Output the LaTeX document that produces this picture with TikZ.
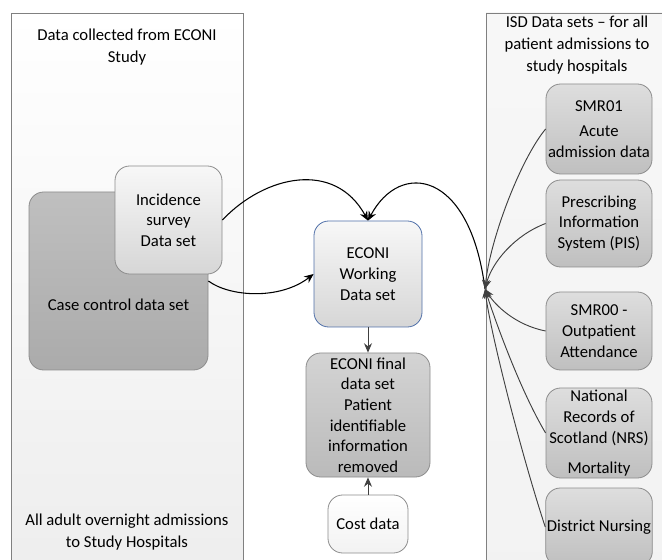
\documentclass[tikz,border=0pt]{standalone}
\usepackage{fontspec}
\setmainfont{Carlito}
\usetikzlibrary{arrows.meta}
\definecolor{edgegray}{RGB}{128,128,128}
\definecolor{boxblue}{RGB}{79,111,168}
\begin{document}
\begin{tikzpicture}[x=0.75pt, y=-0.75pt, font=\fontsize{12.5}{15.5}\selectfont,
    panel/.style={draw=edgegray, line width=0.6pt, top color=white, bottom color=black!7},
    box/.style={draw=black!45, line width=0.6pt, rounded corners=11pt, align=center, inner sep=1pt},
    darkbox/.style={box, top color=black!25, bottom color=black!33},
    greybox/.style={box, top color=black!13, bottom color=black!25},
    lightbox/.style={box, top color=black!3, bottom color=black!16},
    arr/.style={-{Stealth[length=7pt, width=6pt]}, line width=0.8pt},
    thin arr/.style={-{Stealth[length=7pt, width=6pt]}, line width=0.7pt, draw=black!75}]
  \useasboundingbox (0,0) rectangle (662,560);
  \clip (0,0) rectangle (662,560);
  \node[panel, minimum width=174pt, minimum height=425.25pt] (P0) at (127, 296.5) {};
  \node[panel, top color=black!3, bottom color=black!5, minimum width=145.5pt, minimum height=425.25pt] (P1) at (583, 296.5) {};
  \node[align=center, font=\fontsize{12.5}{16.5}\selectfont] (T0) at (127, 47) {Data collected from ECONI\\Study};
  \node[align=center, font=\fontsize{12.5}{16.5}\selectfont] (T1) at (577, 45) {ISD Data sets -- for all\\patient admissions to\\study hospitals};
  \node[align=center, font=\fontsize{12.5}{16.5}\selectfont] (T2) at (127, 532) {All adult overnight admissions\\to Study Hospitals};
  \node[darkbox, minimum width=134.25pt, minimum height=133.5pt, label={[yshift=-18pt]center:Case control data set}] (L0) at (118.5, 281) {};
  \node[lightbox, minimum width=80.25pt, minimum height=81pt] (L1) at (168.5, 220) {Incidence\\survey\\Data set};
  \node[lightbox, draw=boxblue, minimum width=81pt, minimum height=79.5pt] (C0) at (368, 274) {ECONI\\Working\\Data set};
  \node[greybox, top color=black!17, bottom color=black!27, minimum width=93pt, minimum height=93pt] (C1) at (368, 415) {ECONI final\\data set\\Patient\\identifiable\\information\\removed};
  \node[box, top color=white, bottom color=black!5, minimum width=60pt, minimum height=43.5pt] (C2) at (368, 524) {Cost data};
  \node[greybox, minimum width=79.5pt, minimum height=67.5pt] (R0) at (599, 129) {SMR01\\[3pt]Acute\\admission data};
  \node[greybox, minimum width=79.5pt, minimum height=65.25pt] (R1) at (599, 223.5) {Prescribing\\Information\\System (PIS)};
  \node[greybox, minimum width=79.5pt, minimum height=58.5pt] (R2) at (599, 331) {SMR00 -\\Outpatient\\Attendance};
  \node[greybox, minimum width=79.5pt, minimum height=67.5pt] (R3) at (599, 433) {National\\Records of\\Scotland (NRS)\\[7pt]Mortality};
  \node[greybox, minimum width=79.5pt, minimum height=58.5pt] (R4) at (599, 527) {District Nursing};
  \coordinate (H) at (485, 289);
  \draw[arr] (L1.east) .. controls (265,175) and (335,160) .. (C0.north);
  \draw[arr] (L0.east) .. controls (230,297) and (280,300) .. (C0.west);
  \draw[arr] (H) .. controls (470,170) and (400,160) .. (C0.north);
  \draw[thin arr] (C0.south) -- (C1.north);
  \draw[thin arr] (C2.north) -- (C1.south);
  \draw[thin arr] (R0.west) .. controls (520,160) and (490,240) .. (H);
  \draw[thin arr] (R1.west) .. controls (515,235) and (492,262) .. (H);
  \draw[thin arr] (R2.west) .. controls (515,325) and (495,305) .. (H);
  \draw[thin arr] (R3.west) .. controls (520,390) and (495,320) .. (H);
  \draw[thin arr] (R4.west) .. controls (520,450) and (490,330) .. (H);
\end{tikzpicture}
\end{document}
